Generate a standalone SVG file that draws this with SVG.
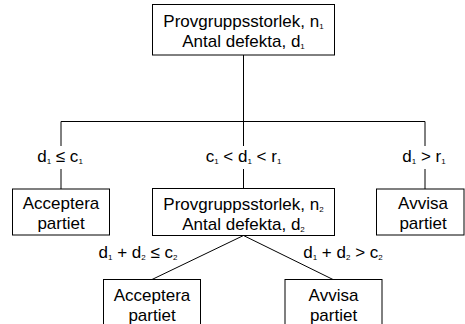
<svg xmlns="http://www.w3.org/2000/svg" width="465" height="324" viewBox="0 0 465 324">
  <style>
    .box { fill: #ffffff; stroke: #000000; stroke-width: 1; }
    .wire { fill: none; stroke: #000000; stroke-width: 1; }
    text { font-family: "Liberation Sans", Arial, sans-serif; font-size: 17px; fill: #000000; text-anchor: middle; }
    .sub { font-size: 8px; }
  </style>
  <rect width="465" height="324" fill="#ffffff"/>

  <g id="connectors">
    <line class="wire" x1="243.5" y1="55" x2="243.5" y2="121.5"/>
    <line class="wire" x1="61" y1="121.5" x2="425" y2="121.5"/>
    <line class="wire" x1="61" y1="121.5" x2="61" y2="146"/>
    <line class="wire" x1="61" y1="169" x2="61" y2="189"/>
    <line class="wire" x1="243.5" y1="121.5" x2="243.5" y2="146"/>
    <line class="wire" x1="243.5" y1="169" x2="243.5" y2="188.5"/>
    <line class="wire" x1="425" y1="121.5" x2="425" y2="146"/>
    <line class="wire" x1="425" y1="169" x2="425" y2="189"/>
    <line class="wire" x1="243.5" y1="235.5" x2="152" y2="279.5"/>
    <line class="wire" x1="243.5" y1="235.5" x2="333" y2="279.5"/>
    <text x="60" y="162">d<tspan class="sub" dy="2">1</tspan><tspan dy="-2"> ≤ c</tspan><tspan class="sub" dy="2">1</tspan></text>
    <text x="243.5" y="162">c<tspan class="sub" dy="2">1</tspan><tspan dy="-2"> &lt; d</tspan><tspan class="sub" dy="2">1</tspan><tspan dy="-2"> &lt; r</tspan><tspan class="sub" dy="2">1</tspan></text>
    <text x="424" y="162">d<tspan class="sub" dy="2">1</tspan><tspan dy="-2"> &gt; r</tspan><tspan class="sub" dy="2">1</tspan></text>
    <text x="138" y="258">d<tspan class="sub" dy="2">1</tspan><tspan dy="-2"> + d</tspan><tspan class="sub" dy="2">2</tspan><tspan dy="-2"> ≤ c</tspan><tspan class="sub" dy="2">2</tspan></text>
    <text x="343" y="258">d<tspan class="sub" dy="2">1</tspan><tspan dy="-2"> + d</tspan><tspan class="sub" dy="2">2</tspan><tspan dy="-2"> &gt; c</tspan><tspan class="sub" dy="2">2</tspan></text>
  </g>

  <g id="first-sample">
    <rect class="box" x="152.5" y="4.5" width="182" height="50.5"/>
    <text x="243.5" y="26.5">Provgruppsstorlek, n<tspan class="sub" dy="2">1</tspan></text>
    <text x="243.5" y="46.5">Antal defekta, d<tspan class="sub" dy="2">1</tspan></text>
  </g>

  <g id="accept-first">
    <rect class="box" x="12.5" y="189" width="97" height="46"/>
    <text x="61" y="208.5">Acceptera</text>
    <text x="61" y="228.5">partiet</text>
  </g>

  <g id="second-sample">
    <rect class="box" x="152.5" y="188.5" width="182" height="47"/>
    <text x="243.5" y="210">Provgruppsstorlek, n<tspan class="sub" dy="2">2</tspan></text>
    <text x="243.5" y="230">Antal defekta, d<tspan class="sub" dy="2">2</tspan></text>
  </g>

  <g id="reject-first">
    <rect class="box" x="376.5" y="189" width="87.5" height="46"/>
    <text x="423" y="208.5">Avvisa</text>
    <text x="423" y="228.5">partiet</text>
  </g>

  <g id="accept-second">
    <rect class="box" x="103.5" y="279.5" width="97" height="50"/>
    <text x="152" y="300.5">Acceptera</text>
    <text x="152" y="320.5">partiet</text>
  </g>

  <g id="reject-second">
    <rect class="box" x="285" y="279.5" width="97" height="50"/>
    <text x="333.5" y="300.5">Avvisa</text>
    <text x="333.5" y="320.5">partiet</text>
  </g>
</svg>
